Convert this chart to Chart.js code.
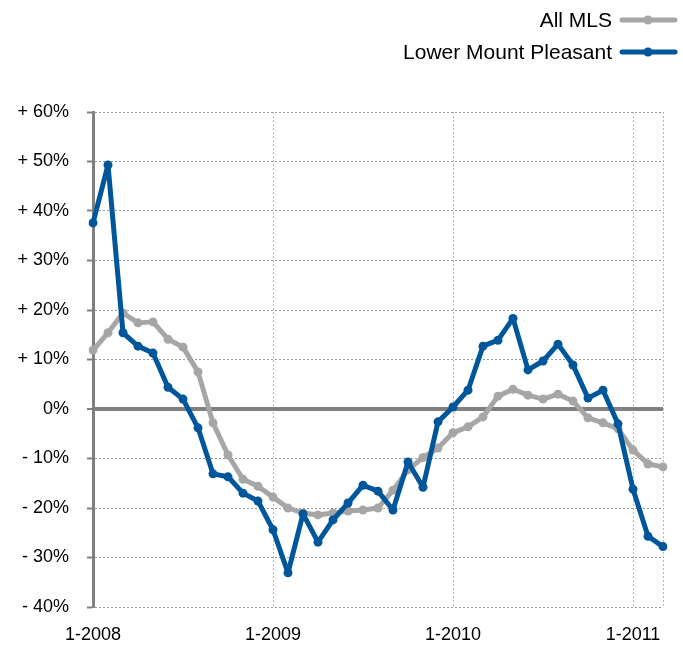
<!DOCTYPE html>
<html>
<head>
<meta charset="utf-8">
<script src="https://cdn.jsdelivr.net/npm/chart.js@4.4.1/dist/chart.umd.min.js"></script>
<style>
html,body{margin:0;padding:0;background:#fff;}
#wrap{width:683px;height:648px;position:relative;}
</style>
</head>
<body>
<div id="wrap"><canvas id="c" width="683" height="648"></canvas></div>
<script>
// Months Jan 2008 .. Mar 2011
const months = [];
for (let y = 2008; y <= 2011; y++) {
  for (let m = 1; m <= 12; m++) {
    if (y === 2011 && m > 3) break;
    months.push(m + '-' + y);
  }
}
const seriesNames = ['All MLS', 'Lower Mount Pleasant'];
const allMLS = [11.9, 15.4, 19.4, 17.4, 17.6, 14.1, 12.5, 7.5, -2.8, -9.3, -14.2, -15.6,
  -17.8, -20.0, -21.0, -21.4, -21.0, -20.6, -20.4, -20.0, -16.4, -12.3, -9.8, -7.9,
  -4.8, -3.6, -1.6, 2.6, 4.0, 2.8, 2.0, 3.0, 1.6, -1.8, -2.8, -4.0,
  -8.3, -11.1, -11.7];
const lowerMP = [37.6, 49.3, 15.4, 12.7, 11.3, 4.4, 2.0, -3.8, -13.1, -13.7, -17.0, -18.6,
  -24.4, -33.1, -21.2, -26.9, -22.4, -19.0, -15.4, -16.6, -20.4, -10.7, -15.8, -2.6,
  0.4, 3.8, 12.7, 13.9, 18.3, 7.9, 9.7, 13.1, 8.9, 2.2, 3.8, -3.0,
  -16.2, -25.7, -27.8];
const yTicks = [-40, -30, -20, -10, 0, 10, 20, 30, 40, 50, 60];

const BLUE = '#00569a';
const GRAY = '#a6a6a6';
const FONT = '"Liberation Sans", Arial, Helvetica, sans-serif';

const legendPlugin = {
  id: 'rightLegend',
  afterDraw(chart) {
    const ctx = chart.ctx;
    const items = [
      {name: seriesNames[0], color: GRAY, y: 21},
      {name: seriesNames[1], color: BLUE, y: 53}
    ];
    ctx.save();
    items.forEach(it => {
      ctx.font = '21px ' + FONT;
      ctx.fillStyle = '#000';
      ctx.textAlign = 'right';
      ctx.textBaseline = 'middle';
      ctx.fillText(it.name, 612, it.y);
      ctx.strokeStyle = it.color;
      ctx.lineWidth = 5;
      ctx.lineCap = 'round';
      ctx.beginPath();
      ctx.moveTo(622, it.y - 1);
      ctx.lineTo(675, it.y - 1);
      ctx.stroke();
      ctx.fillStyle = it.color;
      ctx.beginPath();
      ctx.arc(648, it.y - 1, 4.5, 0, Math.PI * 2);
      ctx.fill();
    });
    ctx.restore();
  }
};

const lineStyle = {borderWidth: 5, pointRadius: 4.5, pointBorderWidth: 0, tension: 0,
  borderJoinStyle: 'round', borderCapStyle: 'round'};

new Chart(document.getElementById('c'), {
  type: 'line',
  data: {
    labels: months,
    datasets: [
      Object.assign({label: seriesNames[1], data: lowerMP, borderColor: BLUE, backgroundColor: BLUE,
       pointBackgroundColor: BLUE}, lineStyle),
      Object.assign({label: seriesNames[0], data: allMLS, borderColor: GRAY, backgroundColor: GRAY,
       pointBackgroundColor: GRAY}, lineStyle)
    ]
  },
  options: {
    responsive: false,
    animation: false,
    devicePixelRatio: 1,
    layout: {padding: {top: 112, right: 20, left: 0, bottom: 0}},
    plugins: {legend: {display: false}, tooltip: {enabled: false}},
    scales: {
      x: {
        type: 'category',
        offset: false,
        afterFit(s) { s.height = 41; },
        ticks: {
          autoSkip: false, maxRotation: 0, minRotation: 0, padding: 17,
          color: '#000', font: {family: FONT, size: 18},
          callback(v, i) { return months[i].startsWith('1-') ? months[i] : ''; }
        },
        grid: {
          drawTicks: false,
          lineWidth: 1,
          color(ctx) {
            const i = ctx.index;
            if (i === months.length - 1 || (i > 0 && months[i] && months[i].startsWith('1-'))) return '#b8b8b8';
            return 'rgba(0,0,0,0)';
          }
        },
        border: {display: false, dash: [2, 2]}
      },
      y: {
        min: -40, max: 60,
        afterFit(s) { s.width = 93; },
        afterBuildTicks(s) { s.ticks = yTicks.map(v => ({value: v})); },
        ticks: {
          padding: 18, color: '#000', font: {family: FONT, size: 18},
          callback(v) { return v > 0 ? '+ ' + v + '%' : (v < 0 ? '- ' + (-v) + '%' : '0%'); }
        },
        grid: {
          drawTicks: true, tickLength: 6, tickWidth: 2, tickColor: '#808080',
          color(ctx) { return ctx.tick && ctx.tick.value === 0 ? '#808080' : '#9a9a9a'; },
          lineWidth(ctx) { return ctx.tick && ctx.tick.value === 0 ? 4 : 1; }
        },
        border: {
          display: true, color: '#808080', width: 3,
          dash(ctx) { return ctx.tick && ctx.tick.value === 0 ? [] : [2, 2]; }
        }
      }
    }
  },
  plugins: [legendPlugin]
});
</script>
</body>
</html>
